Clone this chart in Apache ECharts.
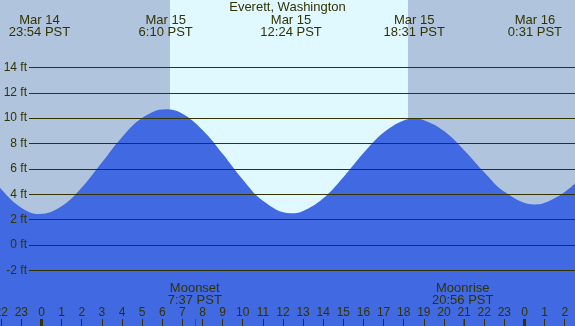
<!DOCTYPE html>
<html>
<head>
<meta charset="utf-8">
<title>Everett, Washington</title>
<script src="https://cdn.jsdelivr.net/npm/echarts@6/dist/echarts.min.js"></script>
<style>
    html, body { margin: 0; padding: 0; }
    #container { width: 575px; height: 326px; }
</style>
</head>
<body>
<div id="container"></div>
<script>
// hours counted from Mar 15 00:00 PST
var tideTimes = [-3, -2, -1, -0.1, 1, 2, 3, 4, 5, 6.17, 7, 8, 9, 10, 11, 12.4, 13, 14, 15, 16, 17, 18, 18.52, 19, 20, 21, 22, 23, 24.52, 25, 26, 27];
var tideHeights = [6.4, 4.4, 2.95, 2.45, 3.06, 4.53, 6.5, 8.49, 10.01, 10.7, 10.35, 9.07, 7.19, 5.16, 3.49, 2.5, 2.68, 3.69, 5.35, 7.25, 8.87, 9.82, 9.95, 9.84, 8.99, 7.48, 5.74, 4.21, 3.2, 3.33, 4.19, 5.6];

var extremeTimes = [-0.1, 6.17, 12.4, 18.52, 24.52];
var extremeLabels = ["Mar 14\n23:54 PST", "Mar 15\n6:10 PST", "Mar 15\n12:24 PST", "Mar 15\n18:31 PST", "Mar 16\n0:31 PST"];

var sunrise = 6.385;
var sunset = 18.21;

var moonTimes = [7.617, 20.933];
var moonLabels = ["Moonset\n7:37 PST", "Moonrise\n20:56 PST"];

var hourTicks = [-2, -1, 0, 1, 2, 3, 4, 5, 6, 7, 8, 9, 10, 11, 12, 13, 14, 15, 16, 17, 18, 19, 20, 21, 22, 23, 24, 25, 26];
var midnightTicks = [0, 24];
var levelMin = -2, levelMax = 14, levelStep = 2;

var textColor = "#333300";
var fontName = "Liberation Sans";

(function () {
    var dom = document.getElementById("container");
    var myChart = echarts.init(dom);

    var points = [];
    for (var i = 0; i < tideTimes.length; i++) {
        points.push([tideTimes[i], tideHeights[i]]);
    }

    var xMin = -2.062, xMax = 26.51;

    // label lookup for the custom tick values
    function pick(times, labels) {
        return function (v) {
            for (var k = 0; k < times.length; k++) {
                if (Math.abs(times[k] - v) < 0.01) return labels[k];
            }
            return "";
        };
    }

    var option = {
        animation: false,
        textStyle: { fontFamily: fontName },
        title: {
            text: "Everett, Washington",
            left: "center",
            top: 0,
            padding: [1, 0, 0, 0],
            textStyle: { fontSize: 13, fontWeight: "normal", color: textColor, fontFamily: fontName }
        },
        grid: [
            // whole picture: tide + day/night
            { left: 0, right: 0, top: 0, bottom: 0, show: true, backgroundColor: "#b0c4de", borderWidth: 0, containLabel: false, outerBoundsMode: "none" },
            // foot lines
            { left: 29, right: 0, top: 67.4, bottom: 55.5, containLabel: false, outerBoundsMode: "none" }
        ],
        xAxis: [
            {
                gridIndex: 0, type: "value", position: "bottom", min: xMin, max: xMax,
                axisLine: { show: false, onZero: false },
                splitLine: { show: false },
                axisTick: { show: true, customValues: hourTicks, inside: true, length: 7, lineStyle: { color: textColor, width: 1 } },
                axisLabel: {
                    show: true, customValues: hourTicks, inside: true, margin: 7,
                    fontSize: 12, color: textColor, fontFamily: fontName,
                    formatter: function (v) { return String((Math.round(v) + 24) % 24); }
                },
                z: 6
            },
            {
                gridIndex: 0, type: "value", position: "bottom", min: xMin, max: xMax,
                axisLine: { show: false, onZero: false },
                splitLine: { show: false },
                axisTick: { show: true, customValues: midnightTicks, inside: true, length: 7, lineStyle: { color: textColor, width: 3 } },
                axisLabel: { show: false },
                z: 6
            },
            {
                gridIndex: 0, type: "value", position: "bottom", min: xMin, max: xMax,
                axisLine: { show: false, onZero: false },
                splitLine: { show: false },
                axisTick: { show: true, customValues: moonTimes, inside: true, length: 7, lineStyle: { color: "#ff0000", width: 1 } },
                axisLabel: {
                    show: true, customValues: moonTimes, inside: true, margin: 20,
                    fontSize: 13, lineHeight: 12, color: textColor, fontFamily: fontName,
                    formatter: pick(moonTimes, moonLabels)
                },
                z: 6
            },
            {
                gridIndex: 0, type: "value", position: "top", min: xMin, max: xMax,
                axisLine: { show: false, onZero: false },
                splitLine: { show: false },
                axisTick: { show: false },
                axisLabel: {
                    show: true, customValues: extremeTimes, inside: true, margin: 14,
                    fontSize: 13, lineHeight: 12, color: textColor, fontFamily: fontName,
                    formatter: pick(extremeTimes, extremeLabels)
                },
                z: 6
            },
            { gridIndex: 1, type: "value", min: 0, max: 1, show: false }
        ],
        yAxis: [
            { gridIndex: 0, type: "value", min: -6.375, max: 19.31, show: false },
            {
                gridIndex: 1, type: "value", min: levelMin, max: levelMax, interval: levelStep,
                axisLine: { show: false, onZero: false },
                axisTick: { show: false },
                splitLine: { show: true, lineStyle: { color: textColor, width: 1 } },
                axisLabel: { margin: 2, fontSize: 12, color: textColor, fontFamily: fontName, formatter: "{value} ft" },
                z: 5
            }
        ],
        series: [
            {
                // daylight band
                type: "line",
                xAxisIndex: 0,
                yAxisIndex: 0,
                data: [],
                z: 1,
                silent: true,
                markArea: {
                    silent: true,
                    itemStyle: { color: "#e0f8ff" },
                    data: [[{ xAxis: sunrise }, { xAxis: sunset }]]
                }
            },
            {
                name: "tide",
                type: "line",
                xAxisIndex: 0,
                yAxisIndex: 0,
                data: points,
                smooth: 0.4,
                symbol: "none",
                lineStyle: { width: 0 },
                areaStyle: { color: "#4169e1", opacity: 1, origin: "start" },
                z: 2
            }
        ]
    };

    myChart.setOption(option, true);
})();
</script>
</body>
</html>
